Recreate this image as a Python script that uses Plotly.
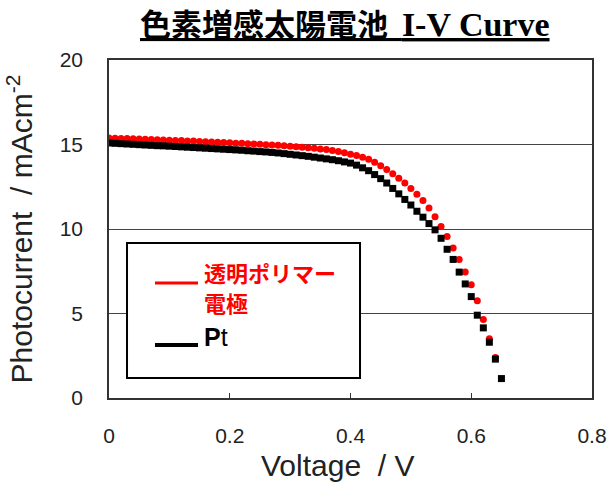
import plotly.graph_objects as go

# Voltage (V) and photocurrent (mA cm^-2)
voltage_polymer = [0.00, 0.01, 0.02, 0.03, 0.04, 0.05, 0.06, 0.07, 0.08, 0.09,
                   0.10, 0.11, 0.12, 0.13, 0.14, 0.15, 0.16, 0.17, 0.18, 0.19,
                   0.20, 0.21, 0.22, 0.23, 0.24, 0.25, 0.26, 0.27, 0.28, 0.29,
                   0.30, 0.31, 0.32, 0.33, 0.34, 0.35, 0.36, 0.37, 0.38, 0.39,
                   0.40, 0.41, 0.42, 0.43, 0.44, 0.45, 0.46, 0.47, 0.48, 0.49,
                   0.50, 0.51, 0.52, 0.53, 0.54, 0.55, 0.56, 0.57, 0.58, 0.59,
                   0.60, 0.61, 0.62, 0.63, 0.64]
current_polymer = [15.38, 15.37, 15.36, 15.35, 15.34, 15.32, 15.31, 15.30, 15.28, 15.27,
                   15.25, 15.24, 15.23, 15.21, 15.20, 15.18, 15.17, 15.15, 15.14, 15.12,
                   15.10, 15.08, 15.07, 15.05, 15.03, 15.01, 14.99, 14.97, 14.95, 14.92,
                   14.90, 14.87, 14.84, 14.81, 14.78, 14.74, 14.70, 14.65, 14.58, 14.51,
                   14.43, 14.35, 14.25, 14.12, 13.95, 13.75, 13.52, 13.27, 13.00, 12.72,
                   12.40, 12.05, 11.68, 11.25, 10.72, 10.15, 9.55, 8.88, 8.20, 7.45,
                   6.70, 5.75, 4.65, 3.50, 2.40]

voltage_pt = [0.00, 0.01, 0.02, 0.03, 0.04, 0.05, 0.06, 0.07, 0.08, 0.09,
              0.10, 0.11, 0.12, 0.13, 0.14, 0.15, 0.16, 0.17, 0.18, 0.19,
              0.20, 0.21, 0.22, 0.23, 0.24, 0.25, 0.26, 0.27, 0.28, 0.29,
              0.30, 0.31, 0.32, 0.33, 0.34, 0.35, 0.36, 0.37, 0.38, 0.39,
              0.40, 0.41, 0.42, 0.43, 0.44, 0.45, 0.46, 0.47, 0.48, 0.49,
              0.50, 0.51, 0.52, 0.53, 0.54, 0.55, 0.56, 0.57, 0.58, 0.59,
              0.60, 0.61, 0.62, 0.63, 0.64, 0.65]
current_pt = [15.09, 15.07, 15.05, 15.03, 15.01, 14.99, 14.97, 14.95, 14.93, 14.92,
              14.90, 14.88, 14.86, 14.84, 14.82, 14.80, 14.78, 14.76, 14.74, 14.72,
              14.70, 14.68, 14.66, 14.63, 14.61, 14.58, 14.56, 14.53, 14.50, 14.46,
              14.42, 14.38, 14.34, 14.30, 14.25, 14.20, 14.15, 14.10, 14.04, 13.97,
              13.90, 13.78, 13.62, 13.45, 13.22, 12.98, 12.72, 12.40, 12.08, 11.75,
              11.42, 11.05, 10.70, 10.32, 9.95, 9.45, 8.80, 8.20, 7.45, 6.75,
              6.00, 4.90, 4.15, 3.30, 2.30, 1.15]

x_ticks = [0, 0.2, 0.4, 0.6, 0.8]
x_tick_labels = ["0", "0.2", "0.4", "0.6", "0.8"]
y_ticks = [0, 5, 10, 15, 20]
y_tick_labels = ["0", "5", "10", "15", "20"]

title_jp = "色素増感太陽電池"
title_en = "I-V Curve"
x_title = "Voltage  / V"
y_title = "Photocurrent  / mAcm<sup>-2</sup>"
legend_polymer_lines = ["透明ポリマー", "電極"]
legend_pt = "Pt"

SANS = "Liberation Sans, Arial, sans-serif"
JP = "Noto Sans CJK JP, sans-serif"

# plot area in page px: x 109..592, y 60..398
fig = go.Figure()
fig.add_trace(go.Scatter(
    x=voltage_polymer, y=current_polymer, mode="markers",
    marker=dict(symbol="circle", size=7, color="#ff0000", line=dict(width=0)),
    showlegend=False))
fig.add_trace(go.Scatter(
    x=voltage_pt, y=current_pt, mode="markers",
    marker=dict(symbol="square", size=7, color="#000000", line=dict(width=0)),
    showlegend=False))

# Legend box (drawn manually to match reference)
fig.add_shape(type="rect", xref="paper", yref="paper",
              x0=0.0373, x1=0.5197, y0=0.0592, y1=0.4586,
              line=dict(color="black", width=2), fillcolor="white", layer="above")
fig.add_shape(type="line", xref="paper", yref="paper",
              x0=0.0952, x1=0.1843, y0=0.3402, y1=0.3402,
              line=dict(color="#ff0000", width=3), layer="above")
fig.add_shape(type="line", xref="paper", yref="paper",
              x0=0.0952, x1=0.1843, y0=0.1568, y1=0.1568,
              line=dict(color="black", width=4), layer="above")
fig.add_annotation(xref="paper", yref="paper", x=0.1925, y=(398 - 272) / 338,
                   xanchor="left", yanchor="middle", showarrow=False,
                   text="<b>" + legend_polymer_lines[0] + "</b>",
                   font=dict(family=JP, size=22, color="#ff0000"))
fig.add_annotation(xref="paper", yref="paper", x=0.1925, y=(398 - 302) / 338,
                   xanchor="left", yanchor="middle", showarrow=False,
                   text="<b>" + legend_polymer_lines[1] + "</b>",
                   font=dict(family=JP, size=22, color="#ff0000"))
fig.add_annotation(xref="paper", yref="paper", x=0.1925, y=0.1805,
                   xanchor="left", yanchor="middle", showarrow=False,
                   text="<b>" + legend_pt[0] + "</b>" + legend_pt[1:],
                   font=dict(family=SANS, size=25, color="black"))

# Title
fig.add_annotation(xref="paper", yref="paper", x=(345 - 109) / 483, y=(398 - 22) / 338,
                   xanchor="center", yanchor="middle", showarrow=False,
                   text="<u><b>" + title_jp + "</b>  <span style=\"font-family:'Liberation Serif', 'Times New Roman', serif;font-size:34px\"><b>"
                        + title_en + "</b></span></u>",
                   font=dict(family=JP, size=31, color="black"))

# X axis title (slightly left of plot centre, as in the reference)
fig.add_annotation(xref="paper", yref="paper", x=(337 - 109) / 483, y=(398 - 465) / 338,
                   xanchor="center", yanchor="middle", showarrow=False,
                   text=x_title, font=dict(family=SANS, size=30, color="#222"))

fig.update_layout(
    width=611, height=488,
    margin=dict(l=109, r=19, t=60, b=90),
    paper_bgcolor="white", plot_bgcolor="white",
    showlegend=False,
    font=dict(family=SANS, color="#222"),
)
fig.update_xaxes(
    range=[0, 0.8], tickvals=x_ticks, ticktext=x_tick_labels,
    ticks="inside", ticklen=5, tickcolor="#333", tickwidth=1,
    showgrid=False, zeroline=False, automargin=False,
    showline=True, linecolor="#333", linewidth=1.5, mirror=True,
    tickfont=dict(family=SANS, size=21, color="#222"),
    ticklabelstandoff=18,
)
fig.update_yaxes(
    range=[0, 20], tickvals=y_ticks, ticktext=y_tick_labels,
    ticks="", showgrid=True, gridcolor="#444", gridwidth=1,
    zeroline=False, automargin=False,
    showline=True, linecolor="#333", linewidth=1.5, mirror=True,
    tickfont=dict(family=SANS, size=21, color="#222"),
    ticklabelstandoff=20,
    title=dict(text=y_title, font=dict(family=SANS, size=30, color="#222"), standoff=18),
)

fig.write_html("out.html",
               config={"displayModeBar": False},
               post_script="document.body.style.margin='0px';document.body.style.overflow='hidden';")
